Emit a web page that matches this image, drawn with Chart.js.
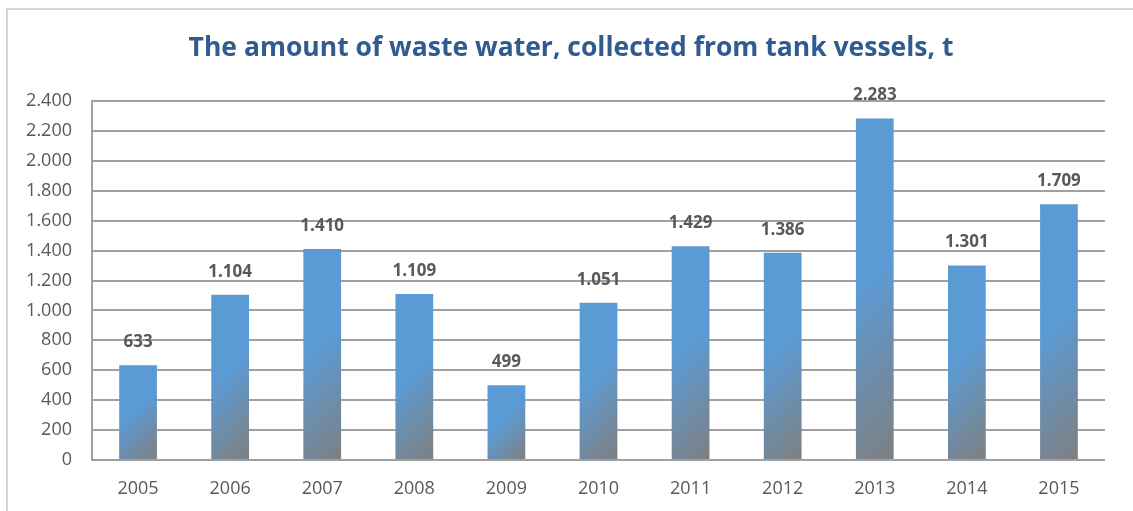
<!DOCTYPE html>
<html lang="en">
<head>
  <meta charset="UTF-8" />
  <title>Waste water collected from tank vessels</title>
  <script src="https://cdn.jsdelivr.net/npm/chart.js"></script>
  <style>
    html, body { margin: 0; padding: 0; background: #fff; }
    .frame {
      position: absolute;
      left: 6px; top: 8px; right: -4px; bottom: -4px;
      border: 2px solid #d4d4d4;
      pointer-events: none;
    }
    .wrap { position: absolute; left: 0; top: 0; width: 1133px; height: 511px; }
  </style>
</head>
<body>
<div class="wrap"><canvas id="wasteChart" width="1133" height="511"></canvas></div>
<div class="frame"></div>

<script>
  // data
  const years = ['2005', '2006', '2007', '2008', '2009', '2010', '2011', '2012', '2013', '2014', '2015'];
  const amounts = [633, 1104, 1410, 1109, 499, 1051, 1429, 1386, 2283, 1301, 1709];
  const yMax = 2400;
  const yStep = 200;
  const chartTitle = 'The amount of waste water, collected from tank vessels, t';

  const BAR_PCT = 0.41;

  // 1234 -> "1.234"
  function fmt(n) {
    return String(n).replace(/\B(?=(\d{3})+(?!\d))/g, '.');
  }

  // diagonal blue -> grey fill, one gradient per bar
  function barFill(ctx) {
    const chart = ctx.chart;
    const xs = chart.scales.x, ys = chart.scales.y;
    if (!chart.chartArea || !xs || !ys || ctx.dataIndex === undefined) return '#5B9BD5';
    const i = ctx.dataIndex;
    const w = (xs.width / years.length) * BAR_PCT;
    const left = xs.getPixelForValue(i) - w / 2;
    const top = ys.getPixelForValue(amounts[i]);
    const h = ys.getPixelForValue(0) - top;
    const d = (w + h) / 2;
    const g = chart.ctx.createLinearGradient(left, top, left + d, top + d);
    g.addColorStop(0, '#5B9BD5');
    g.addColorStop(0.45, '#5B9BD5');
    g.addColorStop(1, '#7F7F7F');
    return g;
  }

  // title centred on the whole frame, not just the plot
  const headTitle = {
    id: 'headTitle',
    afterDraw(chart) {
      const c = chart.ctx;
      c.save();
      c.font = 'bold 26.5px "Open Sans", sans-serif';
      c.fillStyle = '#2F5B91';
      c.textAlign = 'center';
      c.textBaseline = 'middle';
      c.fillText(chartTitle, 571, 48);
      c.restore();
    }
  };

  // value labels above bars
  const valueLabels = {
    id: 'valueLabels',
    afterDatasetsDraw(chart) {
      const c = chart.ctx;
      const meta = chart.getDatasetMeta(0);
      c.save();
      c.font = 'bold 17px "Open Sans", sans-serif';
      c.fillStyle = '#595959';
      c.textAlign = 'center';
      c.textBaseline = 'middle';
      meta.data.forEach((bar, i) => {
        c.fillText(fmt(amounts[i]), bar.x, bar.y - 23);
      });
      c.restore();
    }
  };

  new Chart(document.getElementById('wasteChart'), {
    type: 'bar',
    data: {
      labels: years,
      datasets: [{
        data: amounts,
        backgroundColor: barFill,
        borderWidth: 0,
        barPercentage: BAR_PCT,
        categoryPercentage: 1
      }]
    },
    options: {
      responsive: false,
      animation: false,
      layout: { padding: { left: 0, right: 28, top: 101, bottom: 0 } },
      plugins: {
        legend: { display: false },
        tooltip: { enabled: false },
        title: { display: false }
      },
      scales: {
        x: {
          grid: { display: false, drawTicks: false },
          border: { display: false },
          ticks: {
            color: '#595959',
            font: { family: '"Open Sans", sans-serif', size: 18 },
            padding: 18
          },
          afterFit(scale) { scale.height = 51; }
        },
        y: {
          min: 0,
          max: yMax,
          grid: { color: '#A0A0A0', lineWidth: 2, drawTicks: false },
          border: { display: true, color: '#A0A0A0', width: 2 },
          ticks: {
            stepSize: yStep,
            color: '#595959',
            font: { family: '"Open Sans", sans-serif', size: 18 },
            padding: 20,
            callback: (v) => fmt(v)
          },
          afterFit(scale) { scale.width = 92; }
        }
      }
    },
    plugins: [headTitle, valueLabels]
  });
</script>
</body>
</html>
